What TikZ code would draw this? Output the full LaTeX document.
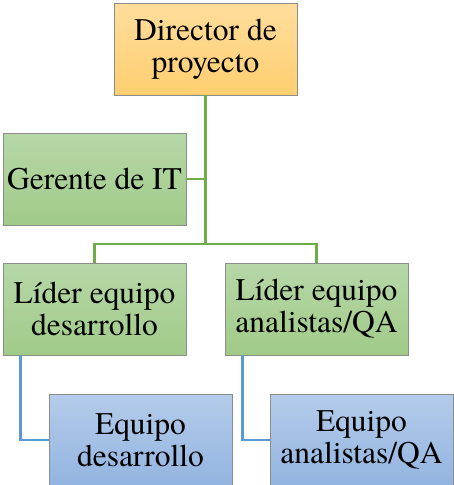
\documentclass[tikz,border=0pt]{standalone}
\usepackage{fontspec}
\setmainfont{TeX Gyre Termes}
\definecolor{edgegray}{HTML}{8C8C8C}
\definecolor{orgtop}{HTML}{FFDD9C}
\definecolor{orgbot}{HTML}{FFCF70}
\definecolor{grntop}{HTML}{B7D7A8}
\definecolor{grnbot}{HTML}{A0CB88}
\definecolor{blutop}{HTML}{B4CCEA}
\definecolor{blubot}{HTML}{93B4E0}
\definecolor{grnline}{HTML}{70AD47}
\definecolor{bluline}{HTML}{5B9BD5}
\tikzset{
  orgbox/.style={draw=edgegray, line width=0.9pt, rectangle,
    minimum width=183pt, minimum height=92pt, inner sep=0pt,
    align=center, text=black, font=\fontsize{31.5}{32}\selectfont},
  gold/.style={orgbox, top color=orgtop, bottom color=orgbot},
  leaf/.style={orgbox, top color=grntop, bottom color=grnbot},
  team/.style={orgbox, top color=blutop, bottom color=blubot},
  gline/.style={draw=grnline, line width=2.6pt},
  bline/.style={draw=bluline, line width=2.6pt}
}
\begin{document}
\begin{tikzpicture}[x=1pt, y=-1pt]
\useasboundingbox (0,0) rectangle (453,485);

% boxes
\node[gold] (dir) at (205.5,49)  {Director de\\proyecto};
\node[leaf] (ger) at (94.5,179)  {Gerente de IT};
\node[leaf] (ld)  at (94.5,309)  {Líder equipo\\desarrollo};
\node[leaf] (la)  at (316.5,309) {Líder equipo\\analistas/QA};
\node[team] (ed)  at (140.5,440) {Equipo\\desarrollo};
\node[team] (ea)  at (361.5,440) {Equipo\\analistas/QA};

% green hierarchy lines
\coordinate (bar) at (205.5,244);
\draw[gline] (dir.south) -- (bar);
\draw[gline] (ger.east) -- (ger.east -| dir.south);
\draw[gline] (ld.north) |- (bar) -| (la.north);

% blue team lines
\draw[bline] ([xshift=18pt]ld.south west) |- (ed.west);
\draw[bline] ([xshift=18pt]la.south west) |- (ea.west);
\end{tikzpicture}
\end{document}
